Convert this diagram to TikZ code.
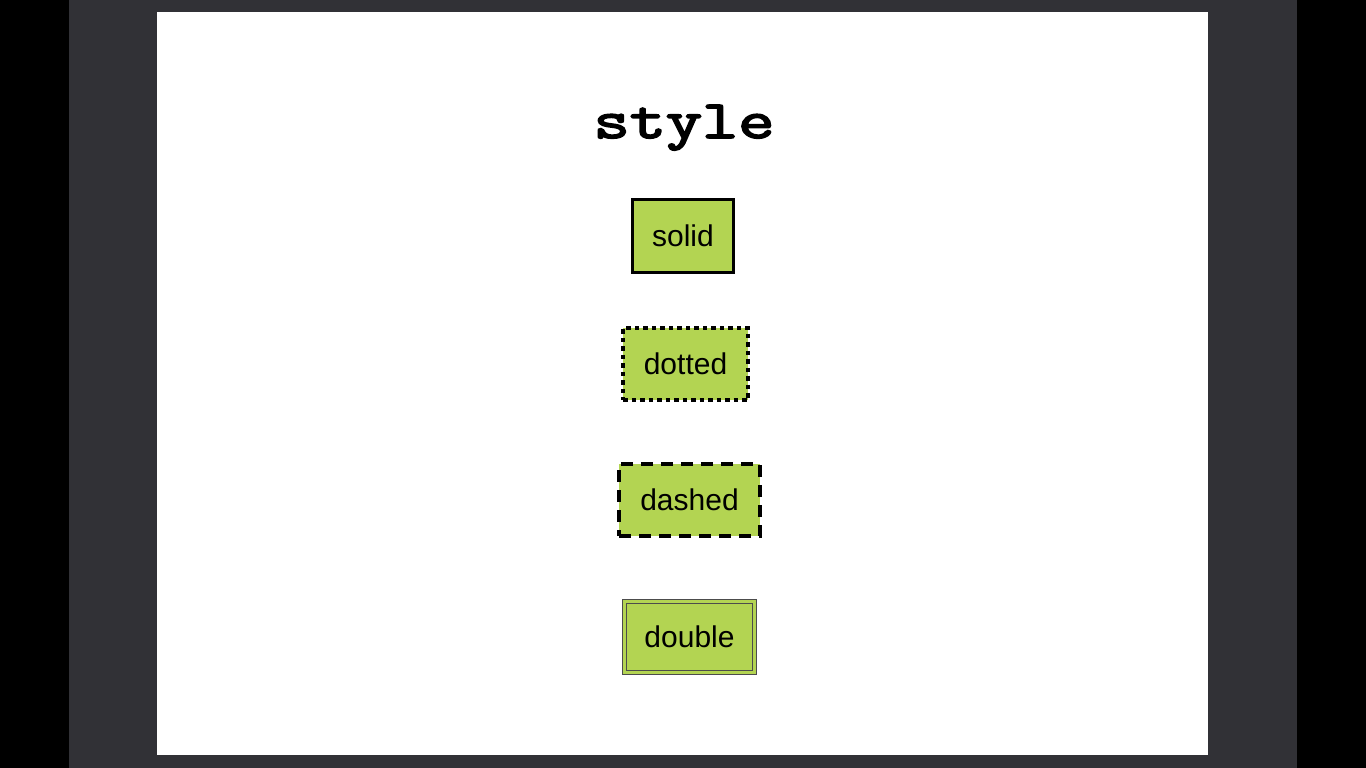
\documentclass[tikz,border=0pt]{standalone}
\usepackage{fontspec}
\setmainfont{Liberation Sans}
\newfontfamily\courierbold{Latin Modern Mono}[FakeBold=3]
\usetikzlibrary{positioning}
\definecolor{slideGrey}{RGB}{49,49,54}
\definecolor{limeFill}{RGB}{179,212,82}

\begin{document}
\begin{tikzpicture}[x=1pt, y=-1pt, box/.style={fill=limeFill,inner sep=0pt,minimum height=72pt,font=\fontsize{30}{34}\selectfont}]
\useasboundingbox (0,0) rectangle (1366,768);
\fill[black] (0,0) rectangle (1366,768);
\fill[slideGrey] (69,0) rectangle (1297,768);
\fill[white] (157,12) rectangle (1208,755);
\node[anchor=base,font=\courierbold\fontsize{54}{56}\selectfont] (title) at (684,138) {\scalebox{1.3}[1]{style}};
\node[box,draw,line width=3pt,minimum width=101pt,minimum height=73pt] (solid) at (683,236) {solid};
\node[box,draw,line width=4pt,dash pattern=on 4.5pt off 4pt,minimum width=125pt] (dotted) at (685.5,364) {dotted};
\node[box,draw,line width=4pt,dash pattern=on 12pt off 8pt,minimum width=141pt] (dashed) at (689.5,500) {dashed};
\node[box,draw=black!70,double=limeFill,line width=1.4pt,double distance=2.4pt,minimum width=130pt,minimum height=71pt] (double) at (689.5,637) {double};
\end{tikzpicture}
\end{document}
